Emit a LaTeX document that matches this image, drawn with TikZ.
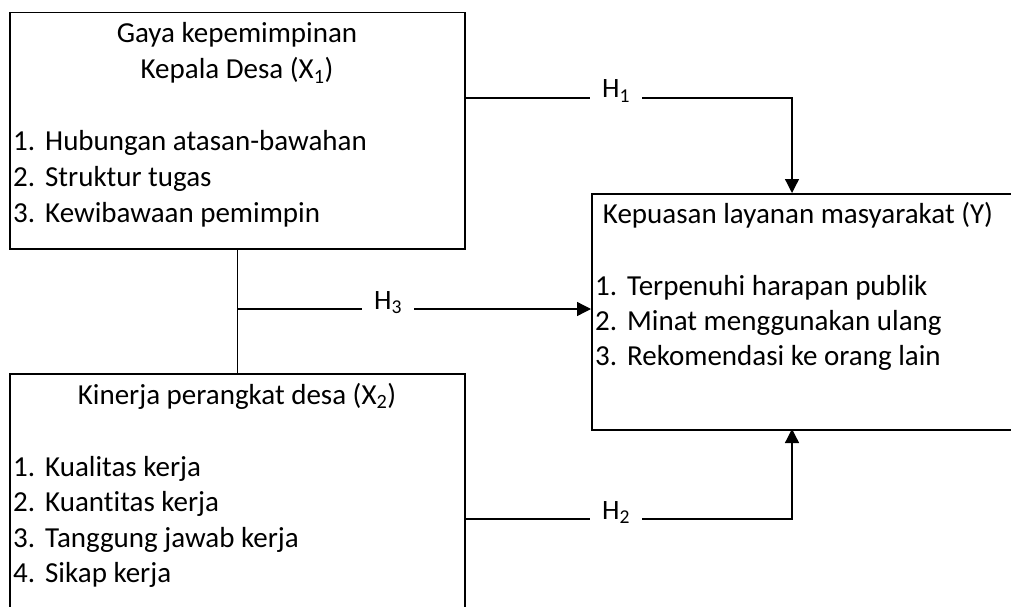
\documentclass[tikz,border=0pt]{standalone}
\usepackage{fontspec}
\setmainfont{Carlito}[Ligatures=NoCommon]
\usetikzlibrary{arrows.meta}
\newcommand{\itm}[1]{\makebox[32pt][l]{#1}}
\begin{document}
\begin{tikzpicture}[x=1pt,y=-1pt,
  box/.style={draw, line width=1.5pt, inner sep=0pt, anchor=north west},
  txt/.style={inner sep=0pt, font=\fontsize{29}{34}\selectfont},
  lab/.style={inner xsep=12pt, inner ysep=0pt, font=\fontsize{28}{33}\selectfont, anchor=base},
  conn/.style={line width=1.3pt},
  arr/.style={line width=1.3pt, -{Triangle[length=14pt,width=14pt]}}]
\useasboundingbox (0,0) rectangle (1011,607);
\clip (0,0) rectangle (1011,607);
% boxes
\node[box, minimum width=455pt, minimum height=236pt] (x1) at (9,12) {};
\node[box, minimum width=455pt, minimum height=280pt] (x2) at (9,373) {};
\node[box, minimum width=460pt, minimum height=236pt] (y) at (591,193) {};
% texts of X1
\node[txt, anchor=base] (x1t1) at (237,43) {Gaya kepemimpinan};
\node[txt, anchor=base] (x1t2) at (237,79) {Kepala Desa (X\textsubscript{1})};
\node[txt, anchor=base west] (x1i1) at (13,150) {\itm{1.}Hubungan atasan-bawahan};
\node[txt, anchor=base west] (x1i2) at (13,186) {\itm{2.}Struktur tugas};
\node[txt, anchor=base west] (x1i3) at (13,222) {\itm{3.}Kewibawaan pemimpin};
% texts of X2
\node[txt, anchor=base] (x2t) at (237,404) {Kinerja perangkat desa (X\textsubscript{2})};
\node[txt, anchor=base west] (x2i1) at (13,476) {\itm{1.}Kualitas kerja};
\node[txt, anchor=base west] (x2i2) at (13,511) {\itm{2.}Kuantitas kerja};
\node[txt, anchor=base west] (x2i3) at (13,547) {\itm{3.}Tanggung jawab kerja};
\node[txt, anchor=base west] (x2i4) at (13,582) {\itm{4.}Sikap kerja};
% texts of Y
\node[txt, anchor=base] (yt) at (798,223) {Kepuasan layanan masyarakat (Y)};
\node[txt, anchor=base west] (yi1) at (595,295) {\itm{1.}Terpenuhi harapan publik};
\node[txt, anchor=base west] (yi2) at (595,330) {\itm{2.}Minat menggunakan ulang};
\node[txt, anchor=base west] (yi3) at (595,365) {\itm{3.}Rekomendasi ke orang lain};
% labels
\node[lab] (h1) at (616,98) {H\textsubscript{1}};
\node[lab] (h2) at (616,519) {H\textsubscript{2}};
\node[lab] (h3) at (388,309) {H\textsubscript{3}};
\coordinate (y1in) at (792,193);
\coordinate (y2in) at (792,429);
\coordinate (mid) at (237,309);
% connectors
\draw[conn] (x1.east |- h1.base) -- (h1.base west);
\draw[arr] (h1.base east) -| (y1in);
\draw[conn] (x2.east |- h2.base) -- (h2.base west);
\draw[arr] (h2.base east) -| (y2in);
\draw[conn] (x1.south) -- (x2.north);
\draw[conn] (mid) -- (h3.base west);
\draw[arr] (h3.base east) -- (h3.base east -| y.west);
\end{tikzpicture}
\end{document}
